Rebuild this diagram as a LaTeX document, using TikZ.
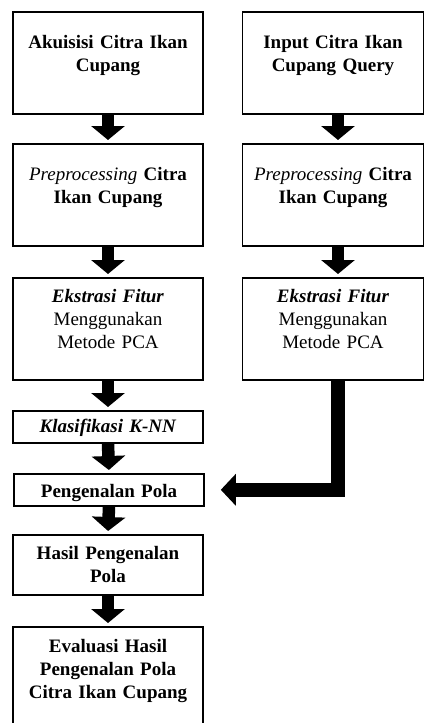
\documentclass[tikz,border=0pt]{standalone}
\usepackage{fontspec}
\setmainfont{Liberation Serif}
\usetikzlibrary{arrows.meta}

\begin{document}
\begin{tikzpicture}[x=1pt, y=-1pt,
    box/.style={draw, line width=1.6pt, fill=white, anchor=north, text width=182pt,
        align=center, inner xsep=4pt, inner ysep=0pt, font=\fontsize{19}{23}\selectfont},
    qbox/.style={box, text width=173pt},
    blockarrow/.style={line width=12.5pt, -{Triangle[length=14pt 0 0, width=33pt 0 0]}, shorten >=3pt}]

    % Define the page
    \useasboundingbox (0,0) rectangle (424,723);
    \clip (0,0) rectangle (424,723);
    \fill[white] (0,0) rectangle (424,723);

    % Draw boxes of the left column
    \node[box, text height=37pt, text depth=65pt] (a1) at (108,11) {\textbf{Akuisisi Citra Ikan}\\\textbf{Cupang}};
    \node[box, text height=37pt, text depth=65pt] (a2) at (108,143) {\textit{Preprocessing} \textbf{Citra}\\\textbf{Ikan Cupang}};
    \node[box, text height=25pt, text depth=77pt] (a3) at (108,277) {\textbf{\textit{Ekstrasi Fitur}}\\Menggunakan\\Metode PCA};
    \node[box, text height=22pt, text depth=10pt] (a4) at (108,410) {\textbf{\textit{Klasifikasi K-NN}}};
    \node[box, text height=24pt, text depth=8pt] (a5) at (109,473) {\textbf{Pengenalan Pola}};
    \node[box, text height=25pt, text depth=35pt] (a6) at (108,534) {\textbf{Hasil Pengenalan}\\\textbf{Pola}};
    \node[box, text height=26pt, text depth=90pt] (a7) at (108,626) {\textbf{Evaluasi Hasil}\\\textbf{Pengenalan Pola}\\\textbf{Citra Ikan Cupang}};

    % Draw boxes of the right column
    \node[qbox, text height=37pt, text depth=65pt] (b1) at (333,11) {\textbf{Input Citra Ikan}\\\textbf{Cupang Query}};
    \node[qbox, text height=37pt, text depth=65pt] (b2) at (333,143) {\textit{Preprocessing} \textbf{Citra}\\\textbf{Ikan Cupang}};
    \node[qbox, text height=25pt, text depth=77pt] (b3) at (333,277) {\textbf{\textit{Ekstrasi Fitur}}\\Menggunakan\\Metode PCA};

    % Draw block arrows
    \draw[blockarrow] (a1.south) -- (a2.north);
    \draw[blockarrow] (a2.south) -- (a3.north);
    \draw[blockarrow] (a3.south) -- (a4.north);
    \draw[blockarrow] (a4.south) -- (a5.north);
    \draw[blockarrow] (a5.south) -- (a6.north);
    \draw[blockarrow] (a6.south) -- (a7.north);
    \draw[blockarrow] ([xshift=5pt]b1.south) -- ([xshift=5pt]b2.north);
    \draw[blockarrow] ([xshift=5pt]b2.south) -- ([xshift=5pt]b3.north);

    % Draw the joining arrow
    \coordinate (m) at ([xshift=16pt]a5.east);
    \draw[line width=14.5pt, -{Triangle[length=15pt 0 0, width=31pt 0 0]}] ([xshift=5pt]b3.south) |- (m);
\end{tikzpicture}
\end{document}
